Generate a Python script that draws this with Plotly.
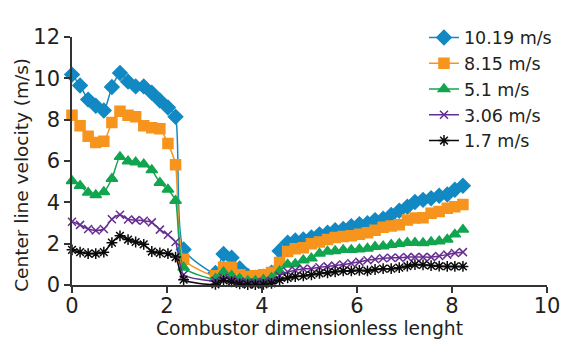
import plotly.graph_objects as go

x_vals = [0, 0.17, 0.34, 0.5, 0.67, 0.84, 1.01, 1.18, 1.34, 1.51, 1.68, 1.85, 2.02, 2.18, 2.35,
          3.02, 3.19, 3.36, 3.53, 3.7, 3.86, 4.03, 4.2,
          4.37, 4.54, 4.7, 4.87, 5.04, 5.21, 5.38, 5.54, 5.71, 5.88, 6.05, 6.22, 6.38, 6.55,
          6.72, 6.89, 7.06, 7.22, 7.39, 7.56, 7.73, 7.9, 8.06, 8.23]

v_10_19 = [10.18, 9.65, 8.97, 8.67, 8.44, 9.58, 10.26, 9.84, 9.61, 9.61, 9.30, 8.93, 8.59, 8.14, 1.72,
           0.58, 1.5, 1.32, 0.8, 0.45, 0.35, 0.4, 0.6,
           1.65, 2.05, 2.15, 2.2, 2.3, 2.45, 2.53, 2.65, 2.71, 2.84, 2.94, 2.99, 3.14, 3.21,
           3.39, 3.59, 3.79, 4.02, 4.12, 4.20, 4.32, 4.38, 4.61, 4.80]
v_8_15 = [8.21, 7.71, 7.20, 6.90, 6.95, 7.86, 8.41, 8.21, 8.14, 7.71, 7.61, 7.56, 6.85, 5.82, 1.25,
          0.45, 0.86, 0.86, 0.5, 0.41, 0.45, 0.5, 0.6,
          1.09, 1.62, 1.75, 1.8, 2.0, 2.08, 2.2, 2.3, 2.35, 2.38, 2.45, 2.53, 2.65, 2.8,
          2.86, 2.91, 3.14, 3.24, 3.26, 3.47, 3.56, 3.71, 3.79, 3.9]
v_5_1 = [5.03, 4.80, 4.47, 4.35, 4.50, 5.14, 6.20, 5.99, 5.94, 5.84, 5.56, 4.95, 4.62, 4.08, 0.85,
         0.3, 0.62, 0.45, 0.3, 0.2, 0.2, 0.25, 0.35,
         0.67, 0.99, 1.02, 1.2, 1.29, 1.52, 1.62, 1.65, 1.7, 1.7, 1.73, 1.77, 1.85, 1.88,
         1.95, 2.0, 2.05, 2.05, 2.03, 2.08, 2.12, 2.2, 2.45, 2.68]
v_3_06 = [3.06, 2.91, 2.71, 2.64, 2.71, 3.18, 3.40, 3.17, 3.14, 3.11, 3.03, 2.68, 2.43, 2.08, 0.5,
          0.2, 0.35, 0.25, 0.15, 0.12, 0.12, 0.15, 0.2,
          0.45, 0.64, 0.71, 0.79, 0.79, 0.86, 0.9, 0.94, 0.99, 1.05, 1.12, 1.2, 1.25, 1.29,
          1.32, 1.32, 1.35, 1.35, 1.35, 1.35, 1.4, 1.47, 1.55, 1.59]
v_1_7 = [1.70, 1.59, 1.52, 1.52, 1.59, 2.05, 2.38, 2.20, 2.08, 1.97, 1.62, 1.55, 1.52, 1.35, 0.26,
         0.03, 0.22, 0.15, 0.05, 0.02, 0.02, 0.03, 0.08,
         0.23, 0.34, 0.41, 0.44, 0.49, 0.56, 0.59, 0.64, 0.68, 0.68, 0.71, 0.68, 0.75, 0.79,
         0.79, 0.84, 0.91, 0.99, 0.97, 0.94, 0.91, 0.9, 0.9, 0.9]

series_names = ["10.19 m/s", "8.15 m/s", "5.1 m/s", "3.06 m/s", "1.7 m/s"]
series_vals = [v_10_19, v_8_15, v_5_1, v_3_06, v_1_7]
colors = ["#1289c3", "#f7941d", "#12a54f", "#662d91", "#0a0a0a"]
symbols = ["diamond", "square", "triangle-up", "x-thin-open", "asterisk-open"]
sizes = [11, 10, 10, 8, 9]

x_title = "Combustor dimensionless lenght"
y_title = "Center line velocity (m/s)"

font_family = "DejaVu Sans"

fig = go.Figure()
for name, vals, c, s, sz in zip(series_names, series_vals, colors, symbols, sizes):
    fig.add_trace(go.Scatter(
        x=x_vals, y=vals, name=name, mode="lines+markers",
        line=dict(color=c, width=1.5, shape="spline", smoothing=0.6),
        marker=dict(symbol=s, size=sz, color=c, line=dict(color=c, width=1.5)),
        cliponaxis=False,
    ))

# the page body adds an 8px offset, so the figure is sized 8px smaller
fig.update_layout(
    width=571, height=334,
    margin=dict(l=64, r=32, t=13, b=57),
    paper_bgcolor="white", plot_bgcolor="white",
    font=dict(family=font_family, size=18, color="#231f20"),
    showlegend=True,
    legend=dict(x=0.741, y=1.07, xanchor="left", yanchor="top",
                font=dict(size=17.5), itemwidth=30, tracegroupgap=0,
                bgcolor="rgba(0,0,0,0)"),
    xaxis=dict(range=[0, 10], tickvals=[0, 2, 4, 6, 8, 10], showgrid=False, zeroline=False,
               automargin=False,
               showline=True, linecolor="#333333", linewidth=1.5,
               ticks="outside", ticklen=6, tickcolor="#333333", tickwidth=1.5,
               tickfont=dict(size=21), ticklabelstandoff=-5,
               title=dict(text=x_title, font=dict(size=18.7), standoff=0)),
    yaxis=dict(range=[0, 12], tickvals=[0, 2, 4, 6, 8, 10, 12], showgrid=False, zeroline=False,
               automargin=False,
               showline=True, linecolor="#333333", linewidth=1.5,
               ticks="outside", ticklen=6, tickcolor="#333333", tickwidth=1.5,
               tickfont=dict(size=21)),
    annotations=[dict(text=y_title, xref="paper", yref="paper", x=-0.108, y=0.443,
                      xanchor="center", yanchor="middle", textangle=-90, showarrow=False,
                      font=dict(size=18.5))],
)

fig.write_html("out.html")
